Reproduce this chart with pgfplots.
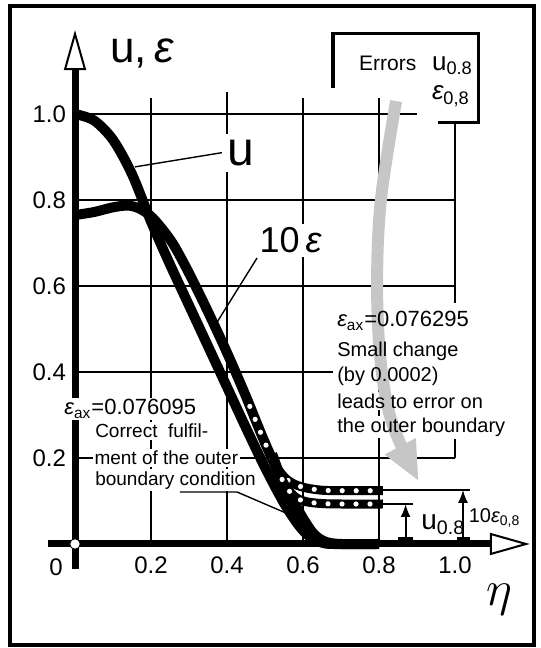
\documentclass[border=0pt]{standalone}
\usepackage{fontspec}
\setmainfont{Liberation Sans}
\usepackage{pgfplots}
\pgfplotsset{compat=1.18}
\usetikzlibrary{arrows.meta}
\newcommand{\eps}{{\itshape ε}}

% right-hand note, drawn twice: once as a white patch, once as text
\newcommand{\rightnote}[1]{%
  \node[#1, anchor=base west, font=\fontsize{11}{13}\selectfont] at (0.684,0.505) {\eps\textsubscript{ax}=0.076295};
  \node[#1, anchor=base west, font=\fontsize{10}{12}\selectfont] at (0.684,0.435) {Small change};
  \node[#1, anchor=base west, font=\fontsize{10}{12}\selectfont] at (0.684,0.377) {(by 0.0002)};
  \node[#1, anchor=base west, font=\fontsize{10}{12}\selectfont] at (0.684,0.316) {leads to error on};
  \node[#1, anchor=base west, font=\fontsize{10}{12}\selectfont] at (0.684,0.260) {the outer boundary};
}

\begin{document}
\begin{tikzpicture}
\begin{axis}[
  x=190pt, y=215pt,
  xmin=-0.07, xmax=1.197, ymin=-0.058, ymax=1.195,
  axis lines=middle,
  axis line style={line width=3.5pt,
    -{Triangle[fill=white, length=20pt, width=11pt, line width=1pt]}},
  clip=false,
  xtick={0.2,0.4,0.6,0.8,1.0}, xticklabels={0.2,0.4,0.6,0.8,1.0},
  ytick={0.2,0.4,0.6,0.8,1.0}, yticklabels={0.2,0.4,0.6,0.8,1.0},
  major tick length=0pt,
  tick label style={font=\fontsize{12}{14}\selectfont},
  xticklabel style={yshift=-3pt},
  yticklabel style={xshift=-1pt},
  /pgf/number format/assume math mode=true,
]
% hand-drawn style grid
\draw[line width=0.8pt] (0,1) -- (0.9,1);
\draw[line width=0.8pt] (0,0.8) -- (1.0,0.8);
\draw[line width=0.8pt] (0,0.6) -- (1.0,0.6);
\draw[line width=0.8pt] (0,0.4) -- (0.68,0.4);
\draw[line width=0.8pt] (0,0.2) -- (1.0,0.2);
\draw[line width=0.8pt] (0.2,0) -- (0.2,1.037);
\draw[line width=0.8pt] (0.4,0) -- (0.4,1.05);
\draw[line width=0.8pt] (0.6,0) -- (0.6,1.037);
\draw[line width=0.8pt] (0.8,0) -- (0.8,1.037);
\draw[line width=0.8pt] (1.0,0.56) -- (1.0,0.981);
\draw[line width=0.8pt] (1.0,0.2) -- (1.0,0.245);

% u
\addplot[line width=5pt, smooth, tension=0.5, line join=round] coordinates {
  (0,1.0) (0.05,0.985) (0.10,0.94) (0.15,0.86) (0.2,0.75) (0.25,0.65)
  (0.3,0.555) (0.35,0.46) (0.4,0.365) (0.45,0.27) (0.5,0.178) (0.55,0.095)
  (0.59,0.042) (0.62,0.015) (0.65,0.003) (0.68,0) (0.8,0)};
% 10 epsilon
\addplot[line width=5pt, smooth, tension=0.5, line join=round] coordinates {
  (0,0.765) (0.05,0.772) (0.1,0.783) (0.14,0.787) (0.17,0.78) (0.2,0.762)
  (0.23,0.732) (0.26,0.695) (0.3,0.63) (0.35,0.54) (0.4,0.445) (0.45,0.343)
  (0.5,0.235) (0.55,0.14) (0.6,0.06) (0.63,0.022) (0.66,0.005) (0.7,0) (0.8,0)};
% perturbed solutions (dotted bands)
\addplot[line width=4.5pt, smooth, tension=0.5] coordinates {
  (0.46,0.32) (0.5,0.235) (0.53,0.18) (0.555,0.152) (0.58,0.138)
  (0.61,0.13) (0.65,0.125) (0.7,0.124) (0.81,0.124)};
\addplot[draw=white, line width=2.6pt, smooth, tension=0.5, line cap=round,
  dash pattern=on 0pt off 7pt] coordinates {
  (0.46,0.32) (0.5,0.235) (0.53,0.18) (0.555,0.152) (0.58,0.138)
  (0.61,0.13) (0.65,0.125) (0.7,0.124) (0.81,0.124)};
\addplot[line width=4.5pt, smooth, tension=0.5] coordinates {
  (0.52,0.21) (0.545,0.15) (0.565,0.122) (0.585,0.106) (0.61,0.098)
  (0.65,0.094) (0.7,0.093) (0.81,0.093)};
\addplot[draw=white, line width=2.6pt, smooth, tension=0.5, line cap=round,
  dash pattern=on 0pt off 7pt] coordinates {
  (0.545,0.15) (0.565,0.122) (0.585,0.106) (0.61,0.098)
  (0.65,0.094) (0.7,0.093) (0.81,0.093)};
% origin
\addplot[only marks, mark=*, mark size=2.6pt, mark options={fill=white, draw=black, line width=0.4pt}]
  coordinates {(0,0)};
\coordinate (O) at (0,0);
\end{axis}

\begin{scope}[shift={(O)}, x=190pt, y=215pt]
  \path (-0.1974,-0.2419) rectangle (1.2263,1.2651);
  \draw[line width=2pt] (-0.1724,-0.2360) rectangle (1.2092,1.2523);

  % axis titles
  \node[anchor=base west, font=\fontsize{22}{24}\selectfont] at (0.074,1.119) {u,\,\eps};
  \node[font=\fontsize{38}{40}\selectfont] at (1.118,-0.13) {$\eta$};
  \node[font=\fontsize{12}{14}\selectfont] at (-0.05,-0.054) {0};

  % curve labels
  \draw[line width=0.7pt] (0.158,0.877) -- (0.40,0.912);
  \node[fill=white, inner sep=3pt, font=\fontsize{24}{26}\selectfont] at (0.437,0.91) {u};
  \draw[line width=0.7pt] (0.374,0.516) -- (0.479,0.665);
  \node[fill=white, inner sep=2pt, anchor=base west, font=\fontsize{18}{20}\selectfont] at (0.474,0.677) {10\,\eps};

  % left note
  \node[fill=white, inner sep=1pt, anchor=base west, font=\fontsize{11}{13}\selectfont] at (-0.034,0.30) {\eps\textsubscript{ax}=0.076095};
  \node[fill=white, inner sep=1pt, anchor=base west, font=\fontsize{9.5}{11}\selectfont] at (0.047,0.2465) {Correct\ \ fulfil-};
  \node[fill=white, inner sep=1pt, anchor=base west, font=\fontsize{9.5}{11}\selectfont] at (0.045,0.184) {ment of the outer};
  \node[fill=white, inner sep=1pt, anchor=base west, font=\fontsize{9.5}{11}\selectfont] at (0.047,0.137) {boundary condition};
  \draw[line width=0.7pt] (0.276,0.121) -- (0.426,0.121) -- (0.579,0.063);

  % right note with the grey arrow from the Errors box
  \rightnote{fill=white, text=white, inner sep=1pt}
  \draw[gray!45, line width=6pt, -{Triangle[length=20pt, width=16pt]}]
    plot[smooth, tension=0.6] coordinates {(0.845,1.03) (0.805,0.8) (0.795,0.6) (0.805,0.42) (0.835,0.28) (0.905,0.145)};
  \rightnote{inner sep=1pt}

  % Errors box
  \draw[line width=1.6pt] (0.679,1.060) -- (0.679,1.188) -- (1.061,1.188) -- (1.061,0.981) -- (0.955,0.981);
  \node[anchor=base west, font=\fontsize{10.5}{12}\selectfont] at (0.729,1.102) {Errors};
  \node[anchor=base west, font=\fontsize{13}{14}\selectfont] at (0.921,1.102) {u\textsubscript{0.8}};
  \node[anchor=base west, font=\fontsize{13}{14}\selectfont] at (0.921,1.033) {\eps\textsubscript{0,8}};

  % error arrows at eta = 0.8
  \draw[line width=0.7pt] (0.81,0.126) -- (1.04,0.126);
  \draw[line width=0.7pt] (0.81,0.093) -- (0.89,0.093);
  \fill (0.85,0) rectangle (0.89,0.016);
  \fill (1.005,0) rectangle (1.04,0.016);
  \draw[line width=1pt, -{Latex[length=6.5pt, width=5pt]}] (0.87,0.016) -- (0.87,0.093);
  \draw[line width=1pt, -{Latex[length=6.5pt, width=5pt]}] (1.021,0.016) -- (1.021,0.126);
  \node[anchor=base west, font=\fontsize{14}{16}\selectfont] at (0.893,0.033) {u\textsubscript{0.8}};
  \node[anchor=base west, inner sep=1pt, font=\fontsize{10}{12}\selectfont] at (1.03,0.049) {10\eps\textsubscript{0,8}};
\end{scope}
\end{tikzpicture}
\end{document}
